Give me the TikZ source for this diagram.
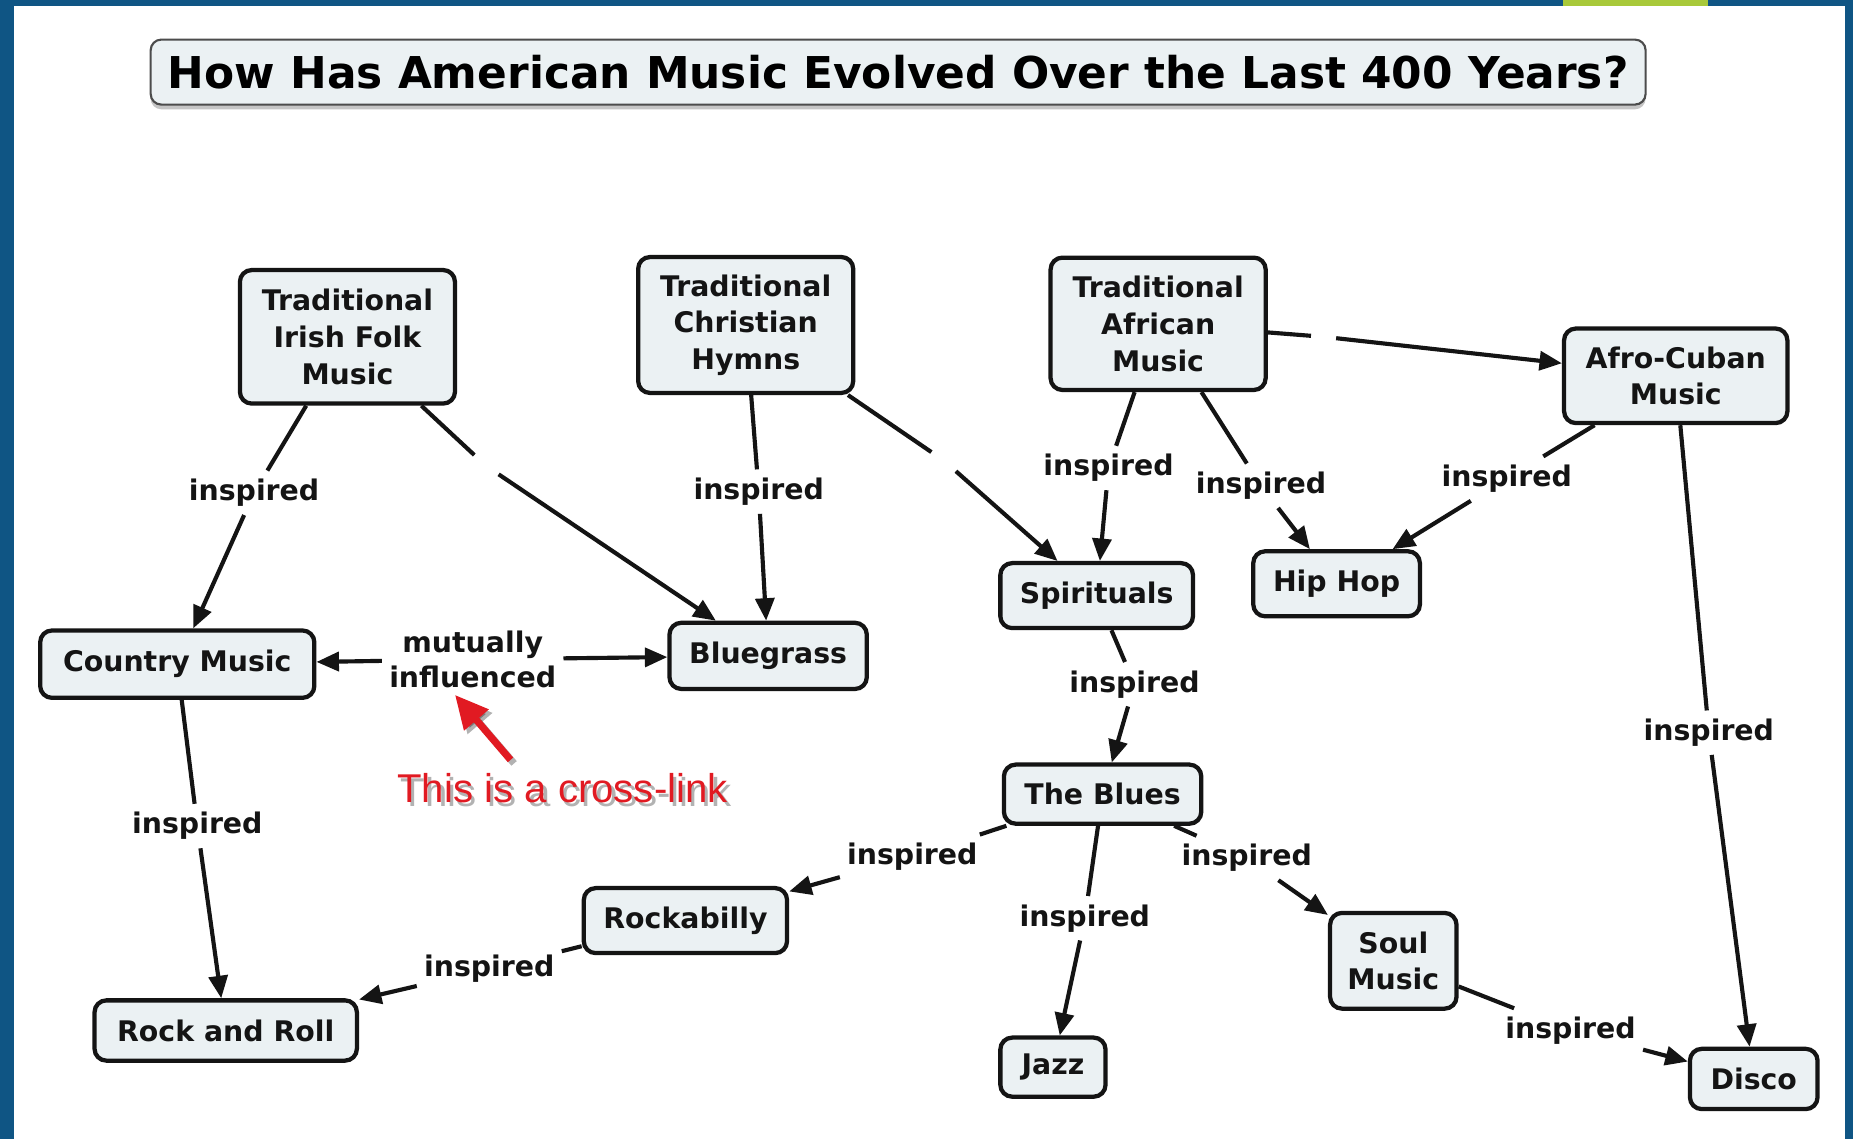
\documentclass[tikz,border=0pt]{standalone}
\usepackage{fontspec}
\setmainfont{DejaVu Sans}
\newfontfamily\notefont{Liberation Sans}
\usetikzlibrary{arrows.meta,shadows}

\definecolor{frameblue}{HTML}{0F5584}
\definecolor{framegreen}{HTML}{A8C93A}
\definecolor{conceptfill}{HTML}{EBF1F3}
\definecolor{inkdark}{HTML}{141414}
\definecolor{notered}{HTML}{E11A22}

\begin{document}
\begin{tikzpicture}[x=1pt,y=-1pt,
  concept/.style={draw=inkdark, line width=3.6pt, rounded corners=10pt,
    fill=conceptfill, font=\bfseries\fontsize{24}{31}\selectfont,
    text=inkdark, align=center, inner sep=0pt},
  phrase/.style={font=\bfseries\fontsize{24}{30}\selectfont, text=inkdark,
    align=center, inner xsep=6pt, inner ysep=7pt},
  gap/.style={circle, inner sep=0pt, minimum size=26pt},
  link/.style={draw=inkdark, line width=3.5pt},
  tolink/.style={link, -{Triangle[length=19pt,width=16pt]}},
]
\useasboundingbox (0,0) rectangle (1568,964);

% page and frame
\fill[white] (0,0) rectangle (1568,964);
\fill[frameblue] (0,0) rectangle (12,964);
\fill[frameblue] (0,0) rectangle (1568,5);
\fill[frameblue] (1561,0) rectangle (1568,964);
\fill[framegreen] (1323,0) rectangle (1445,5);

% title
\node[draw=black!70, line width=1.8pt, rounded corners=9pt, fill=conceptfill,
  drop shadow={shadow xshift=0pt, shadow yshift=-4pt, opacity=0.45},
  minimum width=1265pt, minimum height=55pt, inner sep=0pt,
  font=\bfseries\fontsize{37.1}{40}\selectfont, text=black]
  (title) at (760,61) {How Has American Music Evolved Over the Last 400 Years?};

% concepts
\node[concept, minimum width=182pt, minimum height=113pt] (irish) at (294,285) {Traditional\\Irish Folk\\Music};
\node[concept, minimum width=182pt, minimum height=115pt] (hymns) at (631,275) {Traditional\\Christian\\Hymns};
\node[concept, minimum width=182pt, minimum height=112pt] (african) at (980,274) {Traditional\\African\\Music};
\node[concept, minimum width=189pt, minimum height=80pt] (afrocuban) at (1418,318) {Afro-Cuban\\Music};
\node[concept, minimum width=232pt, minimum height=57pt] (country) at (150,562) {Country Music};
\node[concept, minimum width=167pt, minimum height=56pt] (bluegrass) at (650,555) {Bluegrass};
\node[concept, minimum width=163pt, minimum height=55pt] (spirituals) at (928,504) {Spirituals};
\node[concept, minimum width=141pt, minimum height=55pt] (hiphop) at (1131,494) {Hip Hop};
\node[concept, minimum width=167pt, minimum height=50pt] (blues) at (933,672) {The Blues};
\node[concept, minimum width=172pt, minimum height=55pt] (rockabilly) at (580,779) {Rockabilly};
\node[concept, minimum width=222pt, minimum height=51pt] (rockroll) at (191,872) {Rock and Roll};
\node[concept, minimum width=89pt, minimum height=50pt] (jazz) at (891,903) {Jazz};
\node[concept, minimum width=107pt, minimum height=81pt] (soul) at (1179,813) {Soul\\Music};
\node[concept, minimum width=108pt, minimum height=51pt] (disco) at (1484,913) {Disco};

% linking phrases
\node[phrase] (l1) at (215,417) {inspired};
\node[phrase] (l2) at (642,416) {inspired};
\node[phrase] (l3) at (938,396) {inspired};
\node[phrase] (l4) at (1067,411) {inspired};
\node[phrase] (l5) at (1275,405) {inspired};
\node[phrase] (l6) at (1446,620) {inspired};
\node[phrase] (l7) at (960,579) {inspired};
\node[phrase] (l8) at (167,699) {inspired};
\node[phrase] (l9) at (772,725) {inspired};
\node[phrase] (l10) at (918,777) {inspired};
\node[phrase] (l11) at (1055,726) {inspired};
\node[phrase] (l12) at (414,820) {inspired};
\node[phrase] (l13) at (1329,872) {inspired};
\node[phrase] (mutual) at (400,558) {mutually\\influenced};

% empty linking phrases
\node[gap] (g1) at (411,394) {};
\node[gap] (g2) at (799,390) {};
\node[gap, minimum size=21pt] (g3) at (1120,285) {};

% connectors
\draw[link] (irish) -- (l1);   \draw[tolink] (l1) -- (country);
\draw[link] (hymns) -- (l2);   \draw[tolink] (l2) -- (bluegrass);
\draw[link] (african) -- (l3); \draw[tolink] (l3) -- (spirituals);
\draw[link] (african) -- (l4); \draw[tolink] (l4) -- (hiphop);
\draw[link] (afrocuban) -- (l5); \draw[tolink] (l5) -- (hiphop);
\draw[link] (afrocuban) -- (l6); \draw[tolink] (l6) -- (disco);
\draw[link] (spirituals) -- (l7); \draw[tolink] (l7) -- (blues);
\draw[link] (country) -- (l8); \draw[tolink] (l8) -- (rockroll);
\draw[link] (blues) -- (l9);   \draw[tolink] (l9) -- (rockabilly);
\draw[link] (blues) -- (l10);  \draw[tolink] (l10) -- (jazz);
\draw[link] (blues) -- (l11);  \draw[tolink] (l11) -- (soul);
\draw[link] (rockabilly) -- (l12); \draw[tolink] (l12) -- (rockroll);
\draw[link] (soul) -- (l13);   \draw[tolink] (l13) -- (disco);
\draw[tolink] (mutual) -- (country);
\draw[tolink] (mutual) -- (bluegrass);
\draw[link] (irish) -- (g1);   \draw[tolink] (g1) -- (bluegrass);
\draw[link] (hymns) -- (g2);   \draw[tolink] (g2) -- (spirituals);
\draw[link] (african) -- (g3); \draw[tolink] (g3) -- (afrocuban);

% annotation
\coordinate (notetail) at (432,643);
\coordinate (notetip) at (385,588);
\draw[black, opacity=0.3, line width=6pt, -{Triangle[length=28pt,width=26pt]}]
  ([shift={(3,3)}]notetail) -- ([shift={(3,3)}]notetip);
\draw[notered, line width=6pt, -{Triangle[length=28pt,width=26pt]}] (notetail) -- (notetip);
\node[font=\notefont\fontsize{34}{36}\selectfont, text=black, opacity=0.3]
  at (479,670) {This is a cross-link};
\node[font=\notefont\fontsize{34}{36}\selectfont, text=notered]
  (crossnote) at (476,667) {This is a cross-link};
\end{tikzpicture}
\end{document}
